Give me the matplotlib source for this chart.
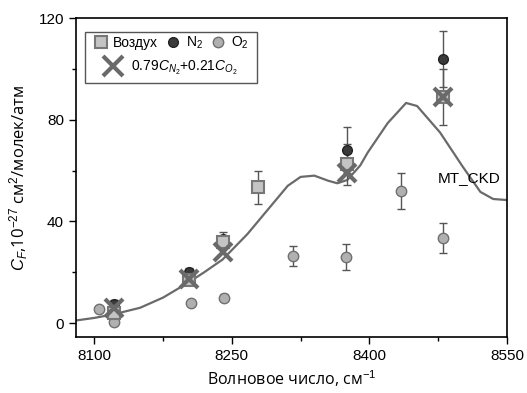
import numpy as np
import matplotlib.pyplot as plt
from matplotlib.lines import Line2D
from matplotlib.patches import Rectangle

plt.rcParams['font.family'] = ['Liberation Sans', 'DejaVu Sans']
plt.rcParams['mathtext.fontset'] = 'custom'
plt.rcParams['mathtext.rm'] = 'Liberation Sans'
plt.rcParams['mathtext.it'] = 'Liberation Sans:italic'

# --- data ---
air_x = [8122, 8203, 8240, 8279, 8376, 8480]
air_y = [4, 17, 32, 53.5, 62.5, 89]
air_err = [2, 1.5, 2, 6.5, 8, 11]

n2_x = [8122, 8203, 8240, 8376, 8480]
n2_y = [7.5, 20, 33, 68, 104]
n2_err = [1.5, 1.5, 3, 9, 11]

o2_x = [8105, 8122, 8206, 8241, 8317, 8375, 8435, 8480]
o2_y = [5.5, 0.5, 8, 10, 26.5, 26, 52, 33.5]
o2_err = [1, 1, 1, 1.5, 4, 5, 7, 6]

mix_x = [8122, 8203, 8240, 8376, 8480]
mix_y = [6, 17.5, 28, 59, 89]

ckd_x = [8080, 8100, 8122, 8150, 8175, 8203, 8220, 8240, 8267, 8289, 8311, 8325,
         8340, 8355, 8365, 8376, 8390, 8398, 8420, 8440, 8452, 8477, 8502, 8521,
         8535, 8550]
ckd_y = [1, 2, 3.5, 6, 10, 16, 20, 25, 35, 44.5, 54, 57.5,
         58, 56, 55, 56.3, 62, 67, 78.7, 86.6, 85.4, 75, 61.4, 51.6,
         48.8, 48.4]

x_ticks = [8100, 8250, 8400, 8550]
y_ticks = [0, 40, 80, 120]

fig = plt.figure(figsize=(5.27, 3.93), dpi=100)
ax = fig.add_axes([0.144, 0.1425, 0.818, 0.8115])

ax.plot(ckd_x, ckd_y, color='#6a6a6a', lw=1.6, zorder=2)

eb = dict(fmt='none', ecolor='#555555', elinewidth=1, capsize=3, capthick=1, zorder=3)
ax.errorbar(o2_x, o2_y, yerr=o2_err, **eb)
ax.errorbar(n2_x, n2_y, yerr=n2_err, **eb)
ax.errorbar(air_x, air_y, yerr=air_err, **eb)

ax.plot(o2_x, o2_y, 'o', ms=7.5, mfc='#b0b0b0', mec='#707070', mew=1, zorder=4)
ax.plot(n2_x, n2_y, 'o', ms=7, mfc='#3a3a3a', mec='#222222', mew=1, zorder=4)
ax.plot(air_x, air_y, 's', ms=8, mfc='#c4c4c4', mec='#777777', mew=1.5, zorder=5)
ax.plot(mix_x, mix_y, 'x', ms=13, mec='#6a6a6a', mew=3, zorder=6)

ax.text(8475, 57, 'MT_CKD', fontsize=11, va='center', ha='left')

ax.set_xlim(8080, 8550)
ax.set_ylim(-5.5, 120)
ax.set_xticks(x_ticks)
ax.set_yticks(y_ticks)
ax.set_xticks([8175, 8325, 8475], minor=True)
ax.set_yticks([20, 60, 100], minor=True)
ax.tick_params(which='major', direction='out', length=5, width=1, labelsize=11)
ax.tick_params(which='minor', direction='out', length=3, width=1)
for s in ax.spines.values():
    s.set_linewidth(1.2)

ax.set_xlabel('Волновое число, см$^{-1}$', fontsize=11.5, labelpad=4,
              family=['Open Sans', 'DejaVu Sans'])
ax.set_ylabel('$C_F$,10$^{-27}$ см$^2$/молек/атм', fontsize=12, labelpad=6,
              family=['Open Sans', 'DejaVu Sans'])

# legend: two rows inside one frame
h_air = Line2D([], [], ls='none', marker='s', ms=8, mfc='#c4c4c4', mec='#777777', mew=1.5)
h_n2 = Line2D([], [], ls='none', marker='o', ms=7, mfc='#3a3a3a', mec='#222222')
h_o2 = Line2D([], [], ls='none', marker='o', ms=7.5, mfc='#b0b0b0', mec='#707070')
h_mix = Line2D([], [], ls='none', marker='x', ms=14, mec='#6a6a6a', mew=3)

leg1 = ax.legend([h_air, h_n2, h_o2], ['Воздух', 'N$_2$', 'O$_2$'], ncol=3,
                 loc='upper left', bbox_to_anchor=(0.025, 0.965), frameon=False,
                 fontsize=10, handletextpad=0.3, columnspacing=0.5, handlelength=1.2,
                 borderaxespad=0)
ax.add_artist(leg1)
ax.legend([h_mix], ['0.79$C_{N_2}$+0.21$C_{O_2}$'], loc='upper left',
          bbox_to_anchor=(0.045, 0.89), frameon=False, fontsize=10,
          handletextpad=0.4, handlelength=1.8, borderaxespad=0)
ax.add_patch(Rectangle((0.021, 0.796), 0.4, 0.16, transform=ax.transAxes,
                       fill=False, ec='#555555', lw=1, zorder=7))

fig.savefig('out.png', dpi=100)
